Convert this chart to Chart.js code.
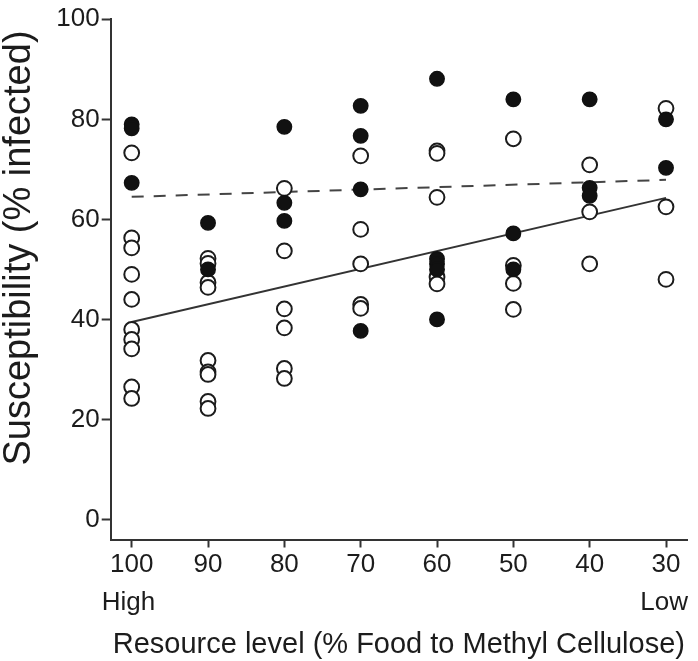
<!DOCTYPE html>
<html>
<head>
<meta charset="utf-8">
<script src="https://cdn.jsdelivr.net/npm/chart.js@4/dist/chart.umd.min.js"></script>
<style>
  body { margin: 0; background: #fff; }
  #wrap { width: 698px; height: 661px; }
</style>
</head>
<body>
<div id="wrap"><canvas id="susceptChart"></canvas></div>
<script>
// resource levels (% food), left = high, right = low
const levels = [100, 90, 80, 70, 60, 50, 40, 30];

// open circles, one list per level
const openValues = [
    [73.3, 56.3, 54.3, 49.0, 44.0, 38.0, 36.0, 34.1, 26.5, 24.2],
    [52.2, 51.2, 47.4, 46.4, 31.8, 29.5, 29.0, 23.6, 22.2],
    [66.2, 53.7, 42.1, 38.3, 30.2, 28.2],
    [72.7, 58.0, 51.1, 43.0, 42.2],
    [73.7, 73.2, 64.4, 48.5, 47.1],
    [76.1, 50.8, 47.2, 42.0],
    [70.9, 61.5, 51.1],
    [82.2, 62.5, 48.0]
];

// filled circles, one list per level
const filledValues = [
    [79.0, 78.2, 67.3],
    [59.3, 50.0],
    [78.5, 63.3, 59.7],
    [82.7, 76.7, 66.0, 37.7],
    [88.1, 52.1, 51.1, 50.0, 40.0],
    [84.0, 57.2, 50.0],
    [84.0, 66.3, 64.7],
    [80.0, 70.3]
];

// fitted lines, endpoints at 100 and 30
const trendX = [100, 30];
const solidTrend = [39.5, 64.3];
const dashedTrend = [64.5, 67.9];

const yTicks = [0, 20, 40, 60, 80, 100];
const xTicks = levels;

const FONT = '"Liberation Sans", Arial, Helvetica, sans-serif';
const INK = '#1c1c1c';

const toPoints = groups => groups.flatMap((vals, i) => vals.map(v => ({ x: levels[i], y: v })));
const linePoints = ys => trendX.map((x, i) => ({ x: x, y: ys[i] }));

// y title and the High / Low notes under the x ticks
const notes = {
    id: 'notes',
    afterDraw(chart) {
        const { ctx, chartArea } = chart;
        ctx.save();
        ctx.fillStyle = INK;
        ctx.textBaseline = 'middle';

        ctx.font = '26px ' + FONT;
        ctx.textAlign = 'left';
        ctx.fillText('High', chartArea.left - 9, 603);
        ctx.textAlign = 'right';
        ctx.fillText('Low', chartArea.right + 1, 603);

        ctx.translate(20, 248);
        ctx.rotate(-Math.PI / 2);
        ctx.textAlign = 'center';
        ctx.font = '38px ' + FONT;
        ctx.fillText('Susceptibility (% infected)', 0, 0);
        ctx.restore();
    }
};

new Chart(document.getElementById('susceptChart'), {
    type: 'scatter',
    data: {
        datasets: [
            {
                label: 'filled',
                data: toPoints(filledValues),
                order: 0,
                pointRadius: 7.2,
                pointBorderWidth: 1.5,
                pointBackgroundColor: '#111',
                pointBorderColor: '#111'
            },
            {
                label: 'open',
                data: toPoints(openValues),
                order: 1,
                pointRadius: 7.4,
                pointBorderWidth: 2,
                pointBackgroundColor: '#fff',
                pointBorderColor: INK
            },
            {
                label: 'solid fit',
                data: linePoints(solidTrend),
                order: 2,
                showLine: true,
                pointRadius: 0,
                borderColor: '#333',
                borderWidth: 2
            },
            {
                label: 'dashed fit',
                data: linePoints(dashedTrend),
                order: 3,
                showLine: true,
                pointRadius: 0,
                borderColor: '#444',
                borderWidth: 2,
                borderDash: [12, 10]
            }
        ]
    },
    options: {
        responsive: true,
        maintainAspectRatio: false,
        animation: false,
        layout: { padding: { top: 19.3, right: 11, bottom: 0, left: 0 } },
        plugins: {
            legend: { display: false },
            tooltip: { enabled: false }
        },
        scales: {
            x: {
                type: 'linear',
                reverse: true,
                min: 27.25,
                max: 102.75,
                afterBuildTicks: scale => { scale.ticks = xTicks.map(v => ({ value: v })); },
                afterFit: scale => { scale.height = 121.5; },
                grid: { drawOnChartArea: false, tickLength: 8, tickColor: '#333', tickWidth: 2 },
                border: { color: '#333', width: 2 },
                ticks: { color: INK, padding: 2, maxRotation: 0, font: { family: FONT, size: 26 } },
                title: {
                    display: true,
                    text: 'Resource level (% Food to Methyl Cellulose)',
                    color: INK,
                    font: { family: FONT, size: 29, lineHeight: 1 },
                    padding: { top: 0, bottom: 2 }
                }
            },
            y: {
                min: -4,
                max: 100,
                afterBuildTicks: scale => { scale.ticks = yTicks.map(v => ({ value: v })); },
                afterFit: scale => { scale.width = 110.7; },
                grid: { drawOnChartArea: false, tickLength: 9, tickColor: '#333', tickWidth: 2 },
                border: { color: '#333', width: 2 },
                ticks: { color: INK, padding: 2, font: { family: FONT, size: 26 } }
            }
        }
    },
    plugins: [notes]
});
</script>
</body>
</html>
